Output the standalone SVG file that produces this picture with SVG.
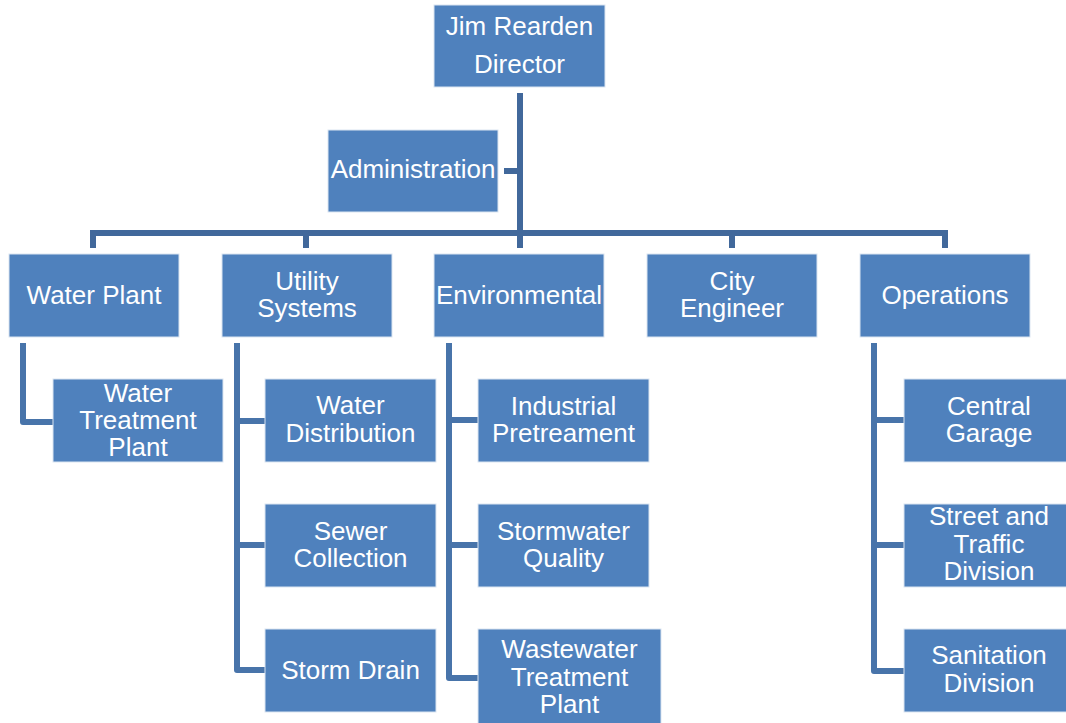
<svg xmlns="http://www.w3.org/2000/svg" width="1066" height="723" viewBox="0 0 1066 723">
<style>
.box{fill:#4f81bd;stroke:#dbe5f1;stroke-width:1}
.t{font-family:"Liberation Sans",Arial,sans-serif;font-size:26px;fill:#ffffff;text-anchor:middle}
.bus{fill:none;stroke:#41689b;stroke-width:6}
.sub{fill:none;stroke:#4874aa;stroke-width:6;stroke-linejoin:round}
</style>
<rect width="1066" height="723" fill="#ffffff"/>
<g id="connectors">
<path class="bus" d="M520,93 V248 M504,171 H520 M93,248 V233 H945 V248 M306,233 V248 M732,233 V248"/>
<path class="sub" d="M23,343 V422 H53"/>
<path class="sub" d="M237,343 V670 H265 M237,421 H265 M237,545 H265"/>
<path class="sub" d="M449,343 V678 H478 M449,420 H478 M449,545 H478"/>
<path class="sub" d="M874,343 V671 H904 M874,420 H904 M874,545 H904"/>
</g>
<g id="director"><rect class="box" x="434" y="5" width="171" height="82"/><text class="t" x="519.5" y="35">Jim Rearden</text><text class="t" x="519.5" y="73">Director</text></g>
<g id="administration"><rect class="box" x="328" y="130" width="170" height="82"/><text class="t" x="413" y="178">Administration</text></g>
<g id="water-plant"><rect class="box" x="9" y="254" width="170" height="83"/><text class="t" x="94" y="304">Water Plant</text></g>
<g id="utility-systems"><rect class="box" x="222" y="254" width="170" height="83"/><text class="t" x="307" y="290">Utility</text><text class="t" x="307" y="317">Systems</text></g>
<g id="environmental"><rect class="box" x="434" y="254" width="170" height="83"/><text class="t" x="519" y="304">Environmental</text></g>
<g id="city-engineer"><rect class="box" x="647" y="254" width="170" height="83"/><text class="t" x="732" y="290">City</text><text class="t" x="732" y="317">Engineer</text></g>
<g id="operations"><rect class="box" x="860" y="254" width="170" height="83"/><text class="t" x="945" y="304">Operations</text></g>
<g id="water-treatment-plant"><rect class="box" x="53" y="379" width="170" height="83"/><text class="t" x="138" y="402">Water</text><text class="t" x="138" y="429">Treatment</text><text class="t" x="138" y="456">Plant</text></g>
<g id="water-distribution"><rect class="box" x="265" y="379" width="171" height="83"/><text class="t" x="350.5" y="414">Water</text><text class="t" x="350.5" y="442">Distribution</text></g>
<g id="sewer-collection"><rect class="box" x="265" y="504" width="171" height="83"/><text class="t" x="350.5" y="540">Sewer</text><text class="t" x="350.5" y="567">Collection</text></g>
<g id="storm-drain"><rect class="box" x="265" y="629" width="171" height="83"/><text class="t" x="350.5" y="679">Storm Drain</text></g>
<g id="industrial-pretreament"><rect class="box" x="478" y="379" width="171" height="83"/><text class="t" x="563.5" y="415">Industrial</text><text class="t" x="563.5" y="442">Pretreament</text></g>
<g id="stormwater-quality"><rect class="box" x="478" y="504" width="171" height="83"/><text class="t" x="563.5" y="540">Stormwater</text><text class="t" x="563.5" y="567">Quality</text></g>
<g id="wastewater-treatment-plant"><rect class="box" x="478" y="629" width="183" height="100"/><text class="t" x="569.5" y="658">Wastewater</text><text class="t" x="569.5" y="686">Treatment</text><text class="t" x="569.5" y="713">Plant</text></g>
<g id="central-garage"><rect class="box" x="904" y="379" width="170" height="83"/><text class="t" x="989" y="415">Central</text><text class="t" x="989" y="442">Garage</text></g>
<g id="street-traffic"><rect class="box" x="904" y="504" width="170" height="83"/><text class="t" x="989" y="525">Street and</text><text class="t" x="989" y="553">Traffic</text><text class="t" x="989" y="580">Division</text></g>
<g id="sanitation"><rect class="box" x="904" y="629" width="170" height="83"/><text class="t" x="989" y="664">Sanitation</text><text class="t" x="989" y="692">Division</text></g>
</svg>
